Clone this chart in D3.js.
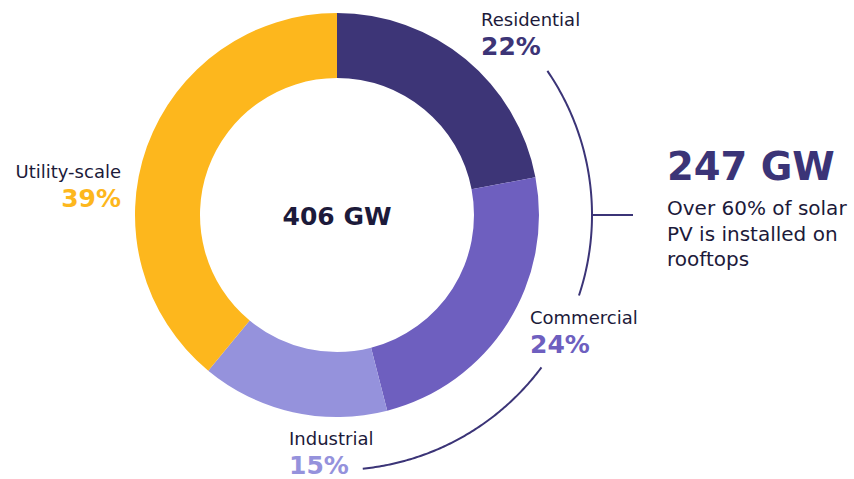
<!DOCTYPE html>
<html>
<head>
<meta charset="utf-8">
<script src="https://cdn.jsdelivr.net/npm/d3@7/dist/d3.min.js"></script>
<style>
  html, body { margin: 0; padding: 0; background: #ffffff; }
  svg { display: block; font-family: "DejaVu Sans", "Noto Sans", sans-serif; }
</style>
</head>
<body>
<svg id="chart" width="854" height="479"></svg>
<script>
// Installed solar PV capacity by segment
const segments = ["Residential", "Commercial", "Industrial", "Utility-scale"];
const shares = [22, 24, 15, 39];
const colors = ["#3d3577", "#6e5fbf", "#9592dc", "#fdb71d"];
const totalLabel = "406 GW";
const rooftopLabel = "247 GW";
const rooftopNote = ["Over 60% of solar", "PV is installed on", "rooftops"];

const svg = d3.select("#chart");
const cx = 337, cy = 215;
const outerR = 202, innerR = 137;
const ink = "#1c1a3a";
const accent = "#3b3477";

const pie = d3.pie().sort(null).value(d => d)(shares);
const arc = d3.arc().innerRadius(innerR).outerRadius(outerR);

const g = svg.append("g").attr("transform", `translate(${cx},${cy})`);

g.selectAll("path.slice")
  .data(pie)
  .join("path")
  .attr("class", "slice")
  .attr("d", arc)
  .attr("fill", (d, i) => colors[i]);

// Total in the centre
g.append("text")
  .attr("x", 0).attr("y", 10)
  .attr("text-anchor", "middle")
  .attr("font-size", 25)
  .attr("font-weight", 700)
  .attr("fill", ink)
  .text(totalLabel);

// Bracket arc around the rooftop segments (residential, commercial, industrial),
// broken where the Commercial label sits
const deg = Math.PI / 180;
const bracketR = 255;
const bracketParts = [[55.6, 108.4], [126.7, 174.2]];
bracketParts.forEach(([a0, a1]) => {
  const pts = d3.range(0, 101).map(k => {
    const a = (a0 + (a1 - a0) * k / 100) * deg;
    return [bracketR * Math.sin(a), -bracketR * Math.cos(a)];
  });
  g.append("path")
    .attr("d", d3.line()(pts))
    .attr("fill", "none")
    .attr("stroke", accent)
    .attr("stroke-width", 2);
});
g.append("line")
  .attr("x1", bracketR - 1).attr("y1", 0)
  .attr("x2", 633 - cx).attr("y2", 0)
  .attr("stroke", accent)
  .attr("stroke-width", 2);

// Segment labels
const labelPos = [
  { x: 481, y: 26, anchor: "start" },
  { x: 530, y: 324, anchor: "start" },
  { x: 289, y: 445, anchor: "start" },
  { x: 121, y: 178, anchor: "end" }
];
segments.forEach((name, i) => {
  const p = labelPos[i];
  svg.append("text")
    .attr("x", p.x).attr("y", p.y)
    .attr("text-anchor", p.anchor)
    .attr("font-size", 18)
    .attr("fill", ink)
    .text(name);
  svg.append("text")
    .attr("x", p.x).attr("y", p.y + 29)
    .attr("text-anchor", p.anchor)
    .attr("font-size", 25)
    .attr("font-weight", 700)
    .attr("fill", colors[i])
    .text(shares[i] + "%");
});

// Rooftop callout
svg.append("text")
  .attr("x", 667).attr("y", 180)
  .attr("font-size", 38.5)
  .attr("font-weight", 700)
  .attr("fill", accent)
  .text(rooftopLabel);
rooftopNote.forEach((line, i) => {
  svg.append("text")
    .attr("x", 667).attr("y", 215 + i * 25.5)
    .attr("font-size", 20)
    .attr("fill", ink)
    .text(line);
});
</script>
</body>
</html>
